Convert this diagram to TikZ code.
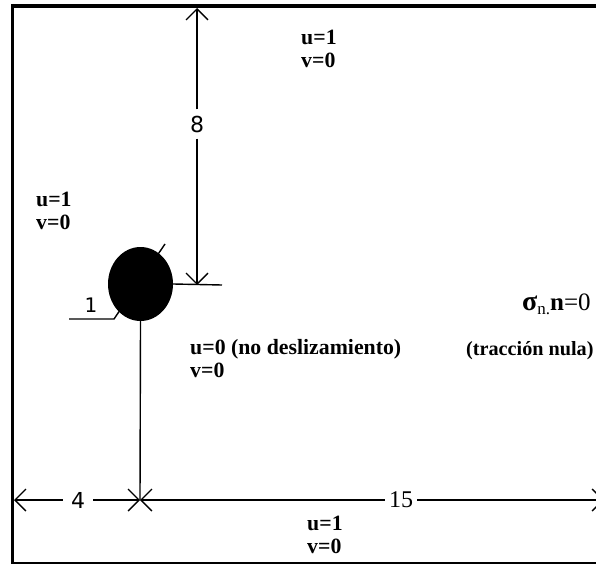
\documentclass[tikz,border=0pt]{standalone}
\usepackage{fontspec}
\setmainfont{Liberation Serif}
\newfontfamily\dejasans{DejaVu Sans}
\usetikzlibrary{arrows.meta,shapes.geometric}
\begin{document}
\begin{tikzpicture}[x=1pt,y=-1pt,
  thin line/.style={line width=1.4pt},
  dimline/.style={line width=1.4pt,-{Straight Barb[length=11pt,width=22pt,line width=1.4pt]}},
  bc/.style={font=\fontsize{21.8}{23}\selectfont\bfseries,align=left,anchor=west,inner sep=0pt},
  sansnum/.style={font=\dejasans\fontsize{22}{24}\selectfont,inner sep=0pt},
  serifnum/.style={font=\fontsize{24}{26}\selectfont,inner sep=0pt}]
\useasboundingbox (0,0) rectangle (596,564);
\clip (0,0) rectangle (596,564);
\fill[white] (0,0) rectangle (596,564);
% frame
\draw[line width=4pt] (11,6) -- (596,6);
\draw[line width=3pt] (12.5,4) -- (12.5,564);
\draw[line width=1.2pt] (12,563) -- (596,563);
% named points
\coordinate (top8) at (197,8);
\coordinate (bot8) at (197,285);
\coordinate (ext) at (222,285);
\coordinate (leftend) at (14,500);
\coordinate (mid) at (140,500);
\coordinate (rightend) at (604,500);
\coordinate (lead1) at (69,319);
\coordinate (lead2) at (114,319);
\coordinate (lead3) at (165,244);
% diameter leader
\draw[thin line] (lead1) -- (lead2) -- (lead3);
% cylinder
\node[ellipse,fill=black,minimum width=65pt,minimum height=74pt,inner sep=0pt] (cyl) at (140.5,284) {};
\draw[thin line] (cyl.east) -- (ext);
\draw[thin line] (cyl.south) -- (mid);
% dimension 8
\node[sansnum,inner ysep=6pt] (lbl8) at (197,124) {8};
\draw[dimline] (lbl8) -- (top8);
\draw[dimline] (lbl8) -- (bot8);
% dimension 4
\node[sansnum,inner xsep=8pt] (lbl4) at (78,500) {4};
\draw[dimline] (lbl4) -- (leftend);
\draw[dimline] (lbl4) -- (mid);
% dimension 15
\node[serifnum,inner xsep=4pt] (lbl15) at (401,500) {15};
\draw[dimline] (lbl15) -- (mid);
\draw[dimline] (lbl15) -- (rightend);
% diameter label
\node[font=\dejasans\fontsize{20}{22}\selectfont,inner sep=0pt] (lbl1) at (91,305) {1};
% texts
\node[bc] (t1) at (301,48.5) {u=1\\v=0};
\node[bc] (t2) at (36,211) {u=1\\v=0};
\node[bc] (t3) at (190,358.5) {u=0 (no deslizamiento)\\v=0};
\node[bc,font=\fontsize{20.2}{23}\selectfont\bfseries] (t4) at (466,351) {(tracción nula)};
\node[anchor=west,inner sep=0pt,font=\fontsize{25}{26}\selectfont] (t5) at (522,304) {{\bfseries\fontsize{28}{28}\selectfont σ}\raisebox{-4pt}{\fontsize{17}{18}\selectfont n.}{\bfseries n}=0};
\node[bc] (t6) at (307,535) {u=1\\v=0};
\end{tikzpicture}
\end{document}
